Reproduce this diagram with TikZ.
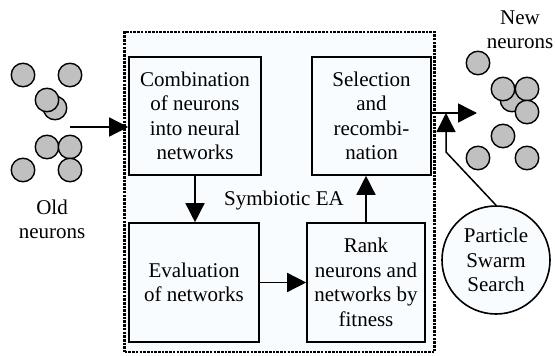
\documentclass[tikz,border=0pt]{standalone}
\usepackage{fontspec}
\setmainfont{Liberation Serif}
\usetikzlibrary{arrows.meta}
\definecolor{boxfill}{HTML}{F8FCFF}
\definecolor{neuron}{HTML}{C0C0C0}
\tikzset{
  lbl/.style={font=\fontsize{21}{24.5}\selectfont, align=center, inner sep=0pt},
  stepbox/.style={lbl, draw, line width=1.6pt, fill=boxfill},
  neur/.style={circle, draw, line width=1.4pt, fill=neuron, minimum size=23.5pt, inner sep=0pt},
  arr/.style={line width=1.5pt, -{Triangle[length=19pt,width=19pt]}},
}
\begin{document}
\begin{tikzpicture}[x=1pt,y=-1pt]
\useasboundingbox (0,0) rectangle (555,356);
% Symbiotic EA container
\node[draw, line width=2.8pt, dash pattern=on 2.6pt off 1.1pt, fill=boxfill,
      minimum width=310pt, minimum height=320pt, inner sep=0pt] (ea) at (279.75,192) {};
% process boxes
\node[stepbox, minimum width=132pt, minimum height=118pt] (comb) at (195,116)
  {Combination\\of neurons\\into neural\\networks};
\node[stepbox, minimum width=130pt, minimum height=119pt] (eval) at (194,282.5)
  {Evaluation\\of networks};
\node[stepbox, minimum width=119pt, minimum height=118pt] (sel) at (371.5,116)
  {Selection\\and\\recombi-\\nation};
\node[stepbox, minimum width=118pt, minimum height=119pt] (rank) at (366,282.5)
  {Rank\\neurons and\\networks by\\fitness};
\node[lbl] (sym) at (284,200) {Symbiotic EA};
% PSO circle
\node[lbl, circle, draw, line width=1.6pt, fill=boxfill, minimum size=108pt] (pso) at (496,260)
  {Particle\\Swarm\\Search};
% old neurons
\node[neur] (o1) at (23,75) {};
\node[neur] (o2) at (70,75) {};
\node[neur] (o4) at (55,108) {};
\node[neur] (o3) at (47,100) {};
\node[neur] (o5) at (47,147) {};
\node[neur] (o6) at (70,147) {};
\node[neur] (o7) at (23,170) {};
\node[neur] (o8) at (70,170) {};
\node[lbl] (oldlbl) at (52,219.5) {Old\\neurons};
% new neurons
\node[neur] (n1) at (478,63) {};
\node[neur] (n4) at (512,100) {};
\node[neur] (n2) at (503,89) {};
\node[neur] (n3) at (527,89) {};
\node[neur] (n5) at (527,112) {};
\node[neur] (n6) at (503,136) {};
\node[neur] (n7) at (478,158) {};
\node[neur] (n8) at (527,158) {};
\node[lbl] (newlbl) at (520,29.5) {New\\neurons};
% connectors
\coordinate (oldend) at (70,127);
\coordinate (newend) at (477,113);
\coordinate (bend) at (446,152);
\coordinate (pstip) at (446,113);
\draw[arr] (oldend) -- (oldend -| comb.west);
\draw[arr] (comb.south) -- (comb.south |- eval.north);
\draw[arr] (eval.east) -- (rank.west);
\draw[arr] (rank.north) -- (rank.north |- sel.south);
\draw[arr] (sel.east |- newend) -- (newend);
\draw[arr] (pso.north) -- (bend) -- (pstip);
\end{tikzpicture}
\end{document}
